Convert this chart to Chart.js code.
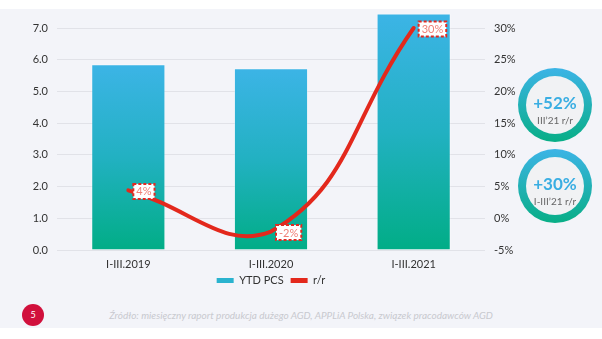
<!DOCTYPE html>
<html>
<head>
<meta charset="utf-8">
<script src="https://cdn.jsdelivr.net/npm/chart.js@4.4.1/dist/chart.umd.min.js"></script>
<style>
  html, body { margin: 0; padding: 0; background: #fff; }
  body { width: 602px; height: 339px; position: relative; overflow: hidden; font-family: Lato, "Open Sans", sans-serif; }
  .panel { position: absolute; left: 0; top: 9px; width: 602px; height: 319px; background: #f3f4f9; }
  .chart-box { position: absolute; left: 0; top: 9px; width: 542px; height: 287px; }
  .ring { position: absolute; left: 518px; width: 74px; height: 74px; border-radius: 50%;
          background: linear-gradient(to bottom, #3cb4e6, #08ae86); }
  .ring .inner { position: absolute; left: 8px; top: 8px; width: 58px; height: 58px; border-radius: 50%;
          background: #f1f2f4; text-align: center; }
  .ring .big { position: absolute; left: 0; right: 0; top: 17px; font-size: 17px; font-weight: 700; color: #3aaee2; line-height: 20px; }
  .ring .small { position: absolute; left: 0; right: 0; top: 39px; font-size: 10px; color: #666; line-height: 11px; }
  .page { position: absolute; left: 22px; top: 304px; width: 22px; height: 22px; border-radius: 50%; background: #d1103c;
          color: #fff; font-size: 9px; line-height: 22px; text-align: center; }
  .source { position: absolute; left: 0; width: 602px; top: 309px; text-align: center; font-size: 10px; font-style: italic; color: #c8c9cf; }
</style>
</head>
<body>
<div class="panel"></div>
<div class="chart-box"><canvas id="chart"></canvas></div>

<div class="ring" style="top:68px"><div class="inner"><div class="big">+52%</div><div class="small">III’21 r/r</div></div></div>
<div class="ring" style="top:149px"><div class="inner"><div class="big">+30%</div><div class="small">I-III’21 r/r</div></div></div>

<div class="page">5</div>
<div class="source">Źródło: miesięczny raport produkcja dużego AGD, APPLiA Polska, związek pracodawców AGD</div>

<script>
// dane z wykresu
const categories = ['I-III.2019', 'I-III.2020', 'I-III.2021'];
const ytdPcs = [5.86, 5.73, 7.46];
const rrValues = [4.4, -2.1, 30];
const leftTicks = [0, 7, 1];     // min, max, krok
const rightTicks = [-5, 30, 5];

const RED = '#e3281c';

// gradient dla kazdego slupka osobno
function barGradient(ctx) {
    const chart = ctx.chart;
    if (!chart.chartArea || ctx.type !== 'data') return '#22b2c4';
    const y = chart.scales.y;
    const top = y.getPixelForValue(ctx.raw);
    const bottom = y.getPixelForValue(0);
    const g = chart.ctx.createLinearGradient(0, top, 0, bottom);
    g.addColorStop(0, '#3cb4e6');
    g.addColorStop(0.5, '#22b1c2');
    g.addColorStop(1, '#01ad86');
    return g;
}

// etykiety w ramkach przy punktach linii
const boxLabels = {
    id: 'boxLabels',
    afterDatasetsDraw(chart) {
        const meta = chart.getDatasetMeta(0);
        const c = chart.ctx;
        c.save();
        c.font = '11px Lato, sans-serif';
        c.textBaseline = 'middle';
        meta.data.forEach((pt, i) => {
            const txt = Math.round(rrValues[i]) + '%';
            const w = c.measureText(txt).width + 6;
            const h = 15;
            const x = pt.x + 5;
            const y = pt.y - h / 2 + 1;
            c.fillStyle = '#fff';
            c.fillRect(x, y, w, h);
            c.setLineDash([3, 2]);
            c.lineWidth = 2;
            c.strokeStyle = '#e02a22';
            c.strokeRect(x, y, w, h);
            c.setLineDash([]);
            c.fillStyle = '#ef7f76';
            c.fillText(txt, x + 3, y + h / 2 + 0.5);
        });
        c.restore();
    }
};

const ctx = document.getElementById('chart').getContext('2d');
new Chart(ctx, {
    type: 'bar',
    data: {
        labels: categories,
        datasets: [{
            type: 'line',
            label: 'r/r',
            data: rrValues,
            yAxisID: 'y1',
            borderColor: RED,
            backgroundColor: RED,
            borderWidth: 4,
            borderCapStyle: 'round',
            tension: 0.45,
            pointRadius: 0,
            fill: false,
            clip: false
        }, {
            label: 'YTD PCS',
            data: ytdPcs,
            yAxisID: 'y',
            backgroundColor: barGradient,
            borderColor: 'rgba(255,255,255,0.35)',
            borderWidth: 1,
            barPercentage: 0.52,
            categoryPercentage: 1,
            clip: false
        }]
    },
    options: {
        responsive: true,
        maintainAspectRatio: false,
        animation: false,
        layout: { padding: { top: 19, left: 0, right: 0, bottom: 0 } },
        plugins: {
            tooltip: { enabled: false },
            legend: {
                position: 'bottom',
                labels: {
                    color: '#333',
                    font: { family: 'Lato', size: 11 },
                    boxWidth: 17,
                    boxHeight: 5,
                    padding: 7,
                    sort: (a, b) => b.datasetIndex - a.datasetIndex,
                    generateLabels(chart) {
                        const items = Chart.defaults.plugins.legend.labels.generateLabels(chart);
                        items.forEach(it => {
                            it.lineWidth = 0;
                            it.fillStyle = it.datasetIndex === 0 ? RED : '#2ab3cf';
                        });
                        return items;
                    }
                }
            }
        },
        scales: {
            x: {
                afterFit(s) { s.height = 18; },
                grid: { display: false, drawTicks: false },
                border: { display: false },
                ticks: { color: '#333', font: { family: 'Lato', size: 11 }, padding: 8 }
            },
            y: {
                position: 'left',
                min: leftTicks[0],
                max: leftTicks[1],
                afterFit(s) { s.width = 57; },
                grid: { color: '#e1e2e8', lineWidth: 1, drawTicks: false },
                border: { display: false },
                ticks: {
                    stepSize: leftTicks[2],
                    color: '#333',
                    font: { family: 'Lato', size: 11 },
                    padding: 9,
                    callback: v => v.toFixed(1)
                }
            },
            y1: {
                position: 'right',
                min: rightTicks[0],
                max: rightTicks[1],
                afterFit(s) { s.width = 57; },
                grid: { drawOnChartArea: false, display: false, drawTicks: false },
                border: { display: false },
                ticks: {
                    stepSize: rightTicks[2],
                    color: '#333',
                    font: { family: 'Lato', size: 11 },
                    padding: 9,
                    callback: v => v + '%'
                }
            }
        }
    },
    plugins: [boxLabels]
});
</script>
</body>
</html>
